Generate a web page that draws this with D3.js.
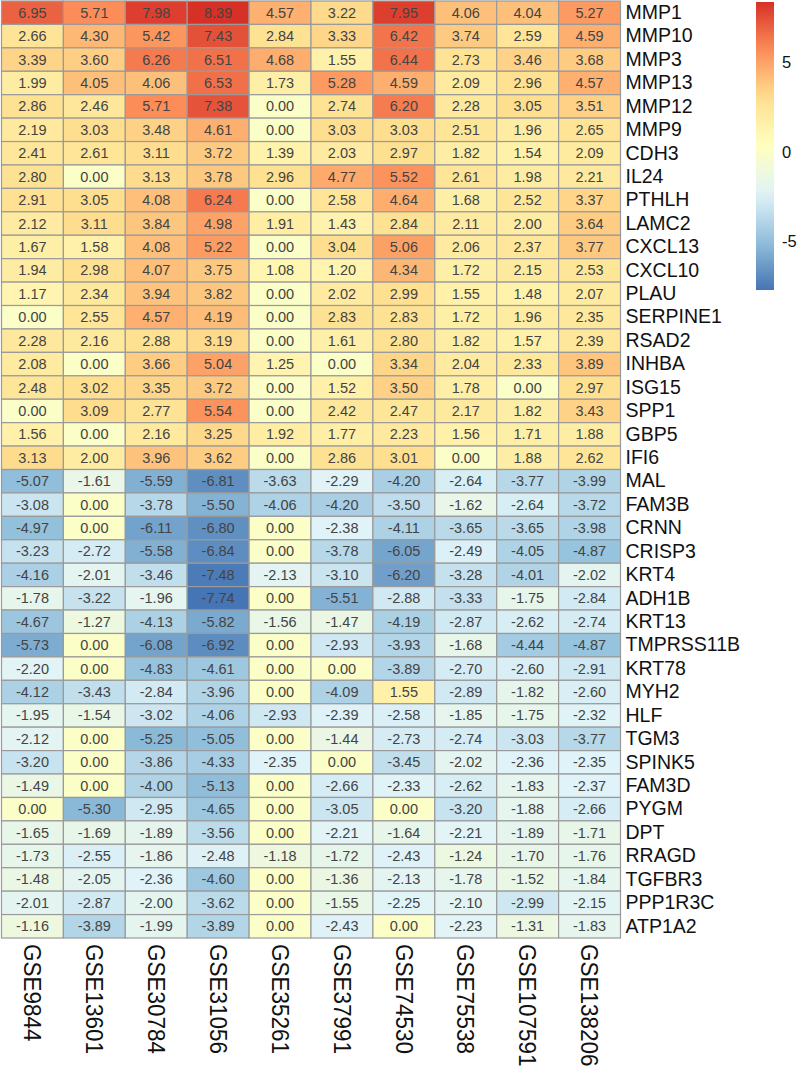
<!DOCTYPE html>
<html>
<head>
<meta charset="utf-8">
<script src="https://cdn.jsdelivr.net/npm/d3@7"></script>
<style>
  body { margin: 0; background: #fff; }
  text { font-family: "Liberation Sans", Arial, sans-serif; }
</style>
</head>
<body>
<svg id="heatmap"></svg>
<script>
const genes = ['MMP1', 'MMP10', 'MMP3', 'MMP13', 'MMP12', 'MMP9', 'CDH3', 'IL24', 'PTHLH', 'LAMC2',
    'CXCL13', 'CXCL10', 'PLAU', 'SERPINE1', 'RSAD2', 'INHBA', 'ISG15', 'SPP1', 'GBP5', 'IFI6',
    'MAL', 'FAM3B', 'CRNN', 'CRISP3', 'KRT4', 'ADH1B', 'KRT13', 'TMPRSS11B', 'KRT78', 'MYH2',
    'HLF', 'TGM3', 'SPINK5', 'FAM3D', 'PYGM', 'DPT', 'RRAGD', 'TGFBR3', 'PPP1R3C', 'ATP1A2'];

const datasets = ['GSE9844', 'GSE13601', 'GSE30784', 'GSE31056', 'GSE35261',
    'GSE37991', 'GSE74530', 'GSE75538', 'GSE107591', 'GSE138206'];

// log fold change, one row per gene, columns in dataset order
const values = [
    [6.95, 5.71, 7.98, 8.39, 4.57, 3.22, 7.95, 4.06, 4.04, 5.27],
    [2.66, 4.30, 5.42, 7.43, 2.84, 3.33, 6.42, 3.74, 2.59, 4.59],
    [3.39, 3.60, 6.26, 6.51, 4.68, 1.55, 6.44, 2.73, 3.46, 3.68],
    [1.99, 4.05, 4.06, 6.53, 1.73, 5.28, 4.59, 2.09, 2.96, 4.57],
    [2.86, 2.46, 5.71, 7.38, 0.00, 2.74, 6.20, 2.28, 3.05, 3.51],
    [2.19, 3.03, 3.48, 4.61, 0.00, 3.03, 3.03, 2.51, 1.96, 2.65],
    [2.41, 2.61, 3.11, 3.72, 1.39, 2.03, 2.97, 1.82, 1.54, 2.09],
    [2.80, 0.00, 3.13, 3.78, 2.96, 4.77, 5.52, 2.61, 1.98, 2.21],
    [2.91, 3.05, 4.08, 6.24, 0.00, 2.58, 4.64, 1.68, 2.52, 3.37],
    [2.12, 3.11, 3.84, 4.98, 1.91, 1.43, 2.84, 2.11, 2.00, 3.64],
    [1.67, 1.58, 4.08, 5.22, 0.00, 3.04, 5.06, 2.06, 2.37, 3.77],
    [1.94, 2.98, 4.07, 3.75, 1.08, 1.20, 4.34, 1.72, 2.15, 2.53],
    [1.17, 2.34, 3.94, 3.82, 0.00, 2.02, 2.99, 1.55, 1.48, 2.07],
    [0.00, 2.55, 4.57, 4.19, 0.00, 2.83, 2.83, 1.72, 1.96, 2.35],
    [2.28, 2.16, 2.88, 3.19, 0.00, 1.61, 2.80, 1.82, 1.57, 2.39],
    [2.08, 0.00, 3.66, 5.04, 1.25, 0.00, 3.34, 2.04, 2.33, 3.89],
    [2.48, 3.02, 3.35, 3.72, 0.00, 1.52, 3.50, 1.78, 0.00, 2.97],
    [0.00, 3.09, 2.77, 5.54, 0.00, 2.42, 2.47, 2.17, 1.82, 3.43],
    [1.56, 0.00, 2.16, 3.25, 1.92, 1.77, 2.23, 1.56, 1.71, 1.88],
    [3.13, 2.00, 3.96, 3.62, 0.00, 2.86, 3.01, 0.00, 1.88, 2.62],
    [-5.07, -1.61, -5.59, -6.81, -3.63, -2.29, -4.20, -2.64, -3.77, -3.99],
    [-3.08, 0.00, -3.78, -5.50, -4.06, -4.20, -3.50, -1.62, -2.64, -3.72],
    [-4.97, 0.00, -6.11, -6.80, 0.00, -2.38, -4.11, -3.65, -3.65, -3.98],
    [-3.23, -2.72, -5.58, -6.84, 0.00, -3.78, -6.05, -2.49, -4.05, -4.87],
    [-4.16, -2.01, -3.46, -7.48, -2.13, -3.10, -6.20, -3.28, -4.01, -2.02],
    [-1.78, -3.22, -1.96, -7.74, 0.00, -5.51, -2.88, -3.33, -1.75, -2.84],
    [-4.67, -1.27, -4.13, -5.82, -1.56, -1.47, -4.19, -2.87, -2.62, -2.74],
    [-5.73, 0.00, -6.08, -6.92, 0.00, -2.93, -3.93, -1.68, -4.44, -4.87],
    [-2.20, 0.00, -4.83, -4.61, 0.00, 0.00, -3.89, -2.70, -2.60, -2.91],
    [-4.12, -3.43, -2.84, -3.96, 0.00, -4.09, 1.55, -2.89, -1.82, -2.60],
    [-1.95, -1.54, -3.02, -4.06, -2.93, -2.39, -2.58, -1.85, -1.75, -2.32],
    [-2.12, 0.00, -5.25, -5.05, 0.00, -1.44, -2.73, -2.74, -3.03, -3.77],
    [-3.20, 0.00, -3.86, -4.33, -2.35, 0.00, -3.45, -2.02, -2.36, -2.35],
    [-1.49, 0.00, -4.00, -5.13, 0.00, -2.66, -2.33, -2.62, -1.83, -2.37],
    [0.00, -5.30, -2.95, -4.65, 0.00, -3.05, 0.00, -3.20, -1.88, -2.66],
    [-1.65, -1.69, -1.89, -3.56, 0.00, -2.21, -1.64, -2.21, -1.89, -1.71],
    [-1.73, -2.55, -1.86, -2.48, -1.18, -1.72, -2.43, -1.24, -1.70, -1.76],
    [-1.48, -2.05, -2.36, -4.60, 0.00, -1.36, -2.13, -1.78, -1.52, -1.84],
    [-2.01, -2.87, -2.00, -3.62, 0.00, -1.55, -2.25, -2.10, -2.99, -2.15],
    [-1.16, -3.89, -1.99, -3.89, 0.00, -2.43, 0.00, -2.23, -1.31, -1.83]
];

const legendTicks = [-5, 0, 5];

// reversed RdYlBu, 7 classes
const palette = ['#4575B4', '#91BFDB', '#E0F3F8', '#FFFFBF', '#FEE090', '#FC8D59', '#D73027'];

const config = {
    width: 800,
    height: 1071,
    gridLeft: 1.5,
    gridTop: 1,
    gridWidth: 619,
    gridHeight: 937,
    legend: { x: 756, y: 2, width: 18, height: 288 }
};

const cells = [];
values.forEach((row, i) => row.forEach((v, j) => cells.push({ gene: genes[i], set: datasets[j], value: v })));

const extent = d3.extent(cells, d => d.value);
const colour = d3.scaleLinear()
    .domain(d3.range(palette.length).map(k => extent[0] + k * (extent[1] - extent[0]) / (palette.length - 1)))
    .range(palette)
    .interpolate(d3.interpolateRgb);

const xScale = d3.scaleBand()
    .domain(datasets)
    .range([config.gridLeft, config.gridLeft + config.gridWidth]);

const yScale = d3.scaleBand()
    .domain(genes)
    .range([config.gridTop, config.gridTop + config.gridHeight]);

const svg = d3.select('#heatmap')
    .attr('width', config.width)
    .attr('height', config.height);

svg.append('g')
    .selectAll('rect')
    .data(cells)
    .join('rect')
    .attr('x', d => xScale(d.set))
    .attr('y', d => yScale(d.gene))
    .attr('width', xScale.bandwidth())
    .attr('height', yScale.bandwidth())
    .attr('fill', d => colour(d.value))
    .attr('stroke', '#9a9a9a')
    .attr('stroke-width', 1.2);

svg.append('g')
    .selectAll('text')
    .data(cells)
    .join('text')
    .attr('x', d => xScale(d.set) + xScale.bandwidth() / 2)
    .attr('y', d => yScale(d.gene) + yScale.bandwidth() / 2)
    .attr('text-anchor', 'middle')
    .attr('dominant-baseline', 'central')
    .attr('font-size', 14.5)
    .attr('fill', '#444')
    .text(d => d.value.toFixed(2));

// gene names on the right
const yAxisG = svg.append('g')
    .attr('transform', `translate(${config.gridLeft + config.gridWidth + 5},0)`)
    .call(d3.axisRight(yScale).tickSize(0).tickPadding(0));
yAxisG.select('.domain').remove();
yAxisG.selectAll('text')
    .attr('font-size', 19.5)
    .attr('fill', '#111')
    .style('font-family', '"Liberation Sans", Arial, sans-serif');

// dataset names below, rotated
const xAxisG = svg.append('g')
    .attr('transform', `translate(0,${config.gridTop + config.gridHeight + 6})`)
    .call(d3.axisBottom(xScale).tickSize(0).tickPadding(0));
xAxisG.select('.domain').remove();
xAxisG.selectAll('text')
    .attr('font-size', 22.5)
    .attr('fill', '#111')
    .attr('text-anchor', 'start')
    .attr('dy', null)
    .attr('dominant-baseline', 'central')
    .attr('transform', 'rotate(90) scale(1,1.08)')
    .style('font-family', '"Liberation Sans", Arial, sans-serif');

// colour legend
const lg = config.legend;
const legendScale = d3.scaleLinear()
    .domain(extent)
    .range([lg.y + lg.height, lg.y]);

const grad = svg.append('defs').append('linearGradient')
    .attr('id', 'legend-grad')
    .attr('x1', 0).attr('y1', 1).attr('x2', 0).attr('y2', 0);
grad.selectAll('stop')
    .data(d3.range(0, 1.0001, 0.05))
    .join('stop')
    .attr('offset', t => t)
    .attr('stop-color', t => colour(extent[0] + t * (extent[1] - extent[0])));

svg.append('rect')
    .attr('x', lg.x)
    .attr('y', lg.y)
    .attr('width', lg.width)
    .attr('height', lg.height)
    .attr('fill', 'url(#legend-grad)');

const legendAxisG = svg.append('g')
    .attr('transform', `translate(${lg.x + lg.width + 8},0)`)
    .call(d3.axisRight(legendScale)
        .tickValues(legendTicks)
        .tickFormat(d => String(d))
        .tickSize(0)
        .tickPadding(0));
legendAxisG.select('.domain').remove();
legendAxisG.selectAll('text')
    .attr('font-size', 16.5)
    .attr('fill', '#111')
    .style('font-family', '"Liberation Sans", Arial, sans-serif');
</script>
</body>
</html>
